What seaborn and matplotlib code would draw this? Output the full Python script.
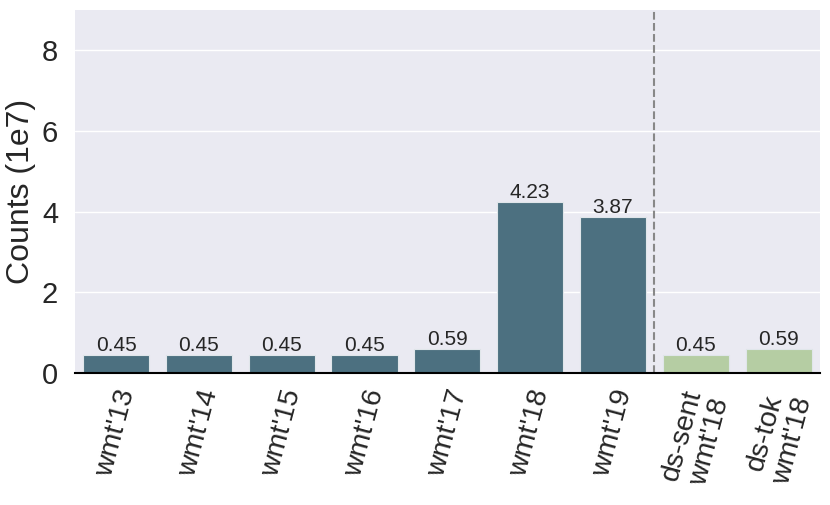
import matplotlib
matplotlib.use("Agg")
import matplotlib.pyplot as plt
import seaborn as sns
import pandas as pd

categories = ["wmt'13", "wmt'14", "wmt'15", "wmt'16", "wmt'17", "wmt'18", "wmt'19",
              "ds-sent\nwmt'18", "ds-tok\nwmt'18"]
counts = [0.45, 0.45, 0.45, 0.45, 0.59, 4.23, 3.87, 0.45, 0.59]
groups = ["wmt"] * 7 + ["ds"] * 2

sns.set_theme(style="darkgrid")
plt.rcParams['font.family'] = ['Liberation Sans', 'DejaVu Sans']

df = pd.DataFrame({"cat": categories, "count": counts, "group": groups})
palette = {"wmt": "#4C7080", "ds": "#B5CDA3"}

fig, ax = plt.subplots(figsize=(8.3, 5.05), dpi=100)
sns.barplot(data=df, x="cat", y="count", hue="group", palette=palette,
            dodge=False, legend=False, ax=ax, width=0.8, saturation=1,
            edgecolor="#E0E6EA", linewidth=0.8)

for c in ax.containers:
    ax.bar_label(c, fmt="%.2f", fontsize=15, padding=0)

ax.axvline(6.5, color="#888888", linestyle="--", linewidth=1.5)
ax.set_ylim(0, 9)
ax.set_xlim(-0.5, 8.5)
ax.set_yticks([0, 2, 4, 6, 8])
ax.set_xlabel("")
ax.set_ylabel("Counts (1e7)", fontsize=23)
ax.tick_params(axis="y", labelsize=21, pad=6)
ax.tick_params(axis="x", labelsize=20.5, pad=4)
plt.setp(ax.get_xticklabels(), rotation=75, ha="center", va="top", rotation_mode="default",
         linespacing=1.15)
ax.grid(axis="x", visible=False)
for s in ["left", "right", "top"]:
    ax.spines[s].set_visible(False)
ax.spines["bottom"].set_visible(True)
ax.spines["bottom"].set_color("black")
ax.spines["bottom"].set_linewidth(1.5)

fig.subplots_adjust(left=0.09, right=0.988, top=0.98, bottom=0.262)
fig.savefig("out.png", dpi=100)
